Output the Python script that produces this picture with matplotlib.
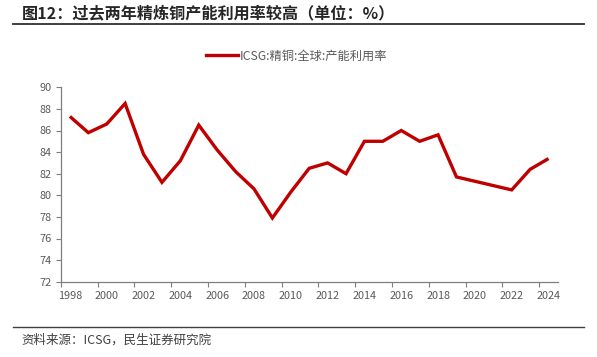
import matplotlib
matplotlib.use("Agg")
import matplotlib.pyplot as plt
from matplotlib.lines import Line2D

plt.rcParams['font.family'] = ['Noto Sans CJK SC', 'DejaVu Sans']

years = list(range(1998, 2025))
utilization = [87.3, 85.8, 86.6, 88.5, 83.8, 81.2, 83.2, 86.5, 84.2, 82.2,
               80.6, 77.9, 80.3, 82.5, 83.0, 82.0, 85.0, 85.0, 86.0, 85.0,
               85.6, 81.7, 81.3, 80.9, 80.5, 82.4, 83.4]
tick_labels = [str(y) for y in range(1998, 2025, 2)]
yticks = list(range(72, 91, 2))

title = "图12：过去两年精炼铜产能利用率较高（单位：%）"
series_name = "ICSG:精铜:全球:产能利用率"
source = "资料来源：ICSG，民生证券研究院"

W, H = 597, 357
fig = plt.figure(figsize=(W / 100, H / 100), dpi=100)

left, right = 60.7 / W, 557.7 / W
top, bottom = 1 - 87.3 / H, 1 - 281.7 / H
ax = fig.add_axes([left, bottom, right - left, top - bottom])

red = '#C00000'
gray = '#595959'
axis_gray = '#7F7F7F'

x = list(range(len(years)))
ax.plot(x, utilization, color=red, lw=2.4, solid_joinstyle='miter', solid_capstyle='butt')

ax.set_xlim(-0.5, len(years) - 0.5)
ax.set_ylim(72, 90)
ax.set_yticks(yticks)
ax.set_yticklabels([str(v) for v in yticks], color=gray, fontsize=7.8)

# labels at category centers, tick marks at category boundaries
label_pos = [years.index(int(t)) for t in tick_labels]
ax.set_xticks(label_pos)
ax.set_xticklabels(tick_labels, color=gray, fontsize=7.8)
ax.tick_params(axis='x', length=0, pad=7)
ax.set_xticks([p - 0.5 for p in label_pos], minor=True)
ax.tick_params(axis='x', which='minor', length=3.5, color=axis_gray, width=0.8, direction='out')
ax.tick_params(axis='y', length=3.5, color=axis_gray, width=0.8, pad=3)

for s in ['top', 'right']:
    ax.spines[s].set_visible(False)
for s in ['left', 'bottom']:
    ax.spines[s].set_color(axis_gray)
    ax.spines[s].set_linewidth(0.9)

# legend
fig.legend(handles=[Line2D([0], [0], color=red, lw=2.4)], labels=[series_name],
           loc='center', bbox_to_anchor=(297 / W, 1 - 56 / H), frameon=False,
           fontsize=8.8, handlelength=2.6, handletextpad=0.15, labelcolor=gray)

# title
fig.text(22 / W, 1 - 13.5 / H, title, fontsize=11.6, fontweight='bold', color='#262626',
         va='center', ha='left')
fig.add_artist(Line2D([13 / W, 584 / W], [1 - 23.8 / H, 1 - 23.8 / H], color='#404040', lw=1.4))

# source
fig.add_artist(Line2D([13 / W, 584 / W], [1 - 326.7 / H, 1 - 326.7 / H], color='#404040', lw=1.0))
fig.text(21.5 / W, 1 - 340 / H, source, fontsize=9, color='#404040', va='center', ha='left')

fig.savefig('out.png', dpi=100)
